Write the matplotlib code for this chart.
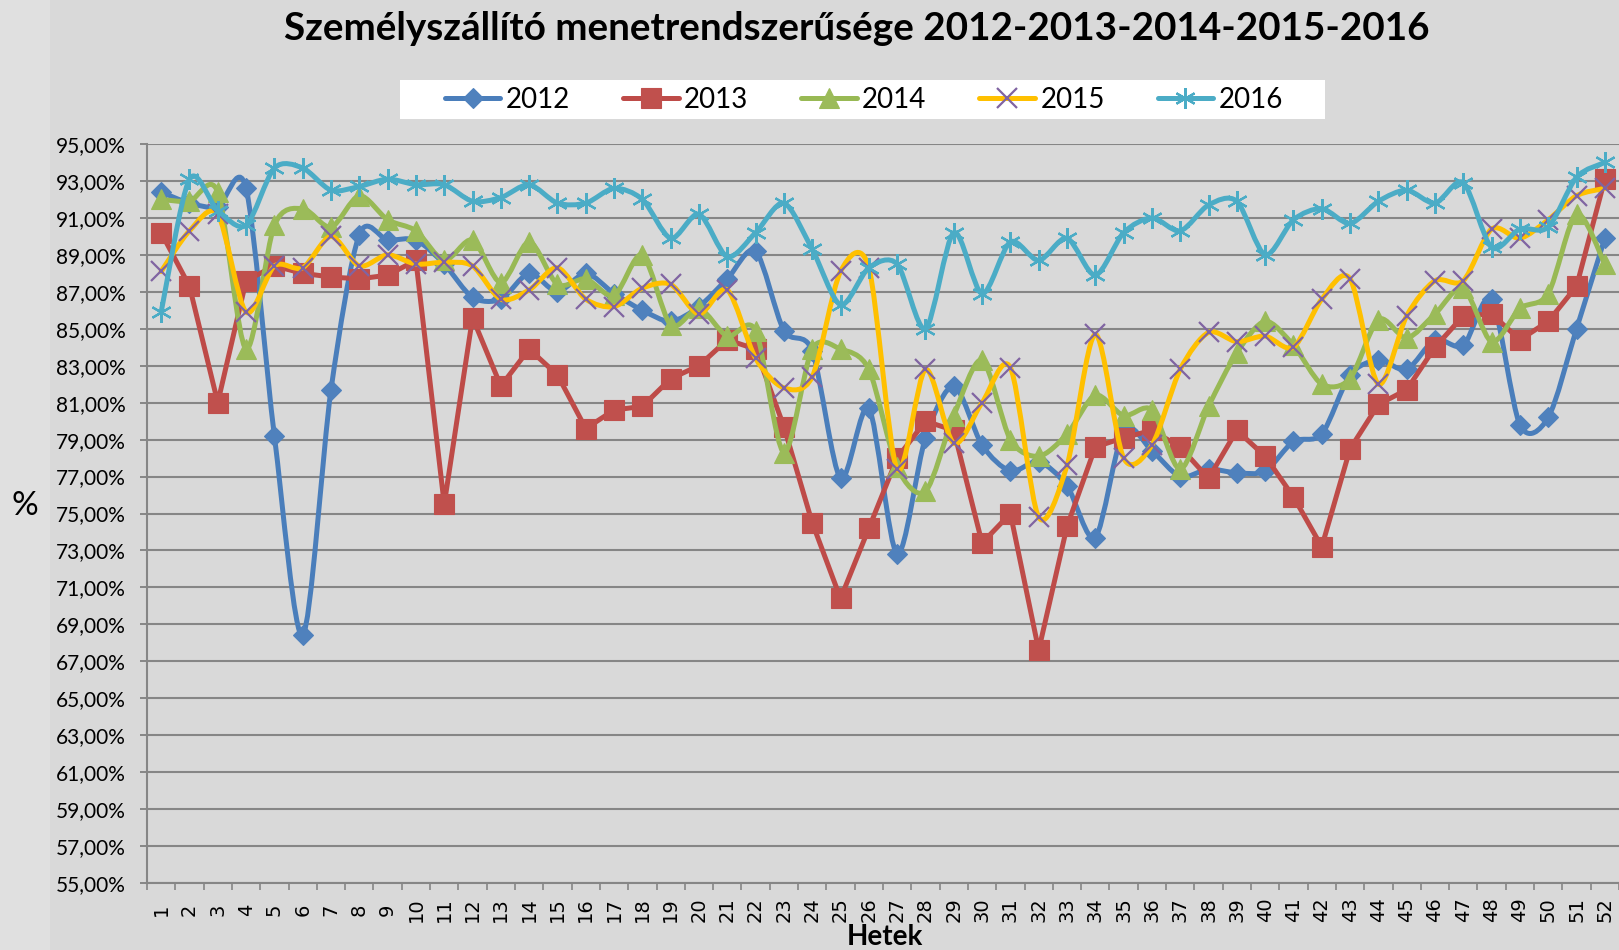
import matplotlib

matplotlib.use("Agg")
import matplotlib.pyplot as plt
import numpy as np
from matplotlib.lines import Line2D
from matplotlib.patches import PathPatch, Rectangle
from matplotlib.path import Path


WEEKS = list(range(1, 53))

Y2012 = [92.4, 91.8, 91.6, 92.6, 79.2, 68.4, 81.7, 90.1, 89.8, 89.8,
         88.5, 86.7, 86.6, 88.0, 87.0, 88.0, 86.9, 86.0, 85.4, 86.2,
         87.7, 89.2, 84.9, 83.8, 76.9, 80.7, 72.8, 79.1, 81.9, 78.7,
         77.3, 77.8, 76.5, 73.7, 79.5, 78.4, 77.0, 77.4, 77.2, 77.3,
         78.9, 79.3, 82.5, 83.3, 82.8, 84.4, 84.1, 86.6, 79.8, 80.2,
         85.0, 89.9]
Y2013 = [90.2, 87.3, 81.0, 87.6, 88.4, 88.0, 87.8, 87.7, 87.9, 88.7,
         75.5, 85.6, 81.9, 83.9, 82.5, 79.6, 80.6, 80.8, 82.3, 83.0,
         84.4, 83.9, 79.7, 74.5, 70.4, 74.2, 78.0, 80.0, 79.5, 73.4,
         75.0, 67.6, 74.3, 78.6, 79.1, 79.5, 78.6, 76.9, 79.5, 78.1,
         75.9, 73.2, 78.5, 80.9, 81.7, 84.0, 85.7, 85.8, 84.4, 85.4,
         87.3, 93.1]
Y2014 = [92.0, 91.9, 92.4, 83.9, 90.6, 91.5, 90.5, 92.2, 90.9, 90.3,
         88.7, 89.8, 87.5, 89.7, 87.4, 87.7, 86.8, 89.0, 85.2, 86.1,
         84.6, 84.9, 78.3, 83.9, 83.9, 82.8, 77.5, 76.2, 80.3, 83.3,
         79.0, 78.1, 79.3, 81.4, 80.3, 80.6, 77.4, 80.8, 83.7, 85.4,
         84.1, 82.0, 82.3, 85.5, 84.5, 85.8, 87.2, 84.3, 86.1, 86.9,
         91.2, 88.5]
Y2015 = [88.1, 90.3, 91.2, 85.9, 88.4, 88.3, 90.0, 88.4, 89.0, 88.5,
         88.6, 88.4, 86.6, 87.1, 88.3, 86.6, 86.2, 87.2, 87.4, 85.8,
         87.1, 83.4, 81.8, 82.4, 88.1, 88.3, 77.4, 82.8, 78.8, 81.0,
         82.9, 74.8, 77.6, 84.7, 78.0, 78.7, 82.8, 84.8, 84.3, 84.6,
         84.0, 86.6, 87.7, 82.0, 85.7, 87.6, 87.6, 90.4, 89.9, 90.9,
         92.2, 92.6]
Y2016 = [85.9, 93.1, 91.4, 90.6, 93.7, 93.7, 92.5, 92.7, 93.1, 92.8,
         92.8, 91.9, 92.1, 92.8, 91.8, 91.8, 92.6, 92.0, 89.9, 91.2,
         88.9, 90.2, 91.8, 89.3, 86.3, 88.3, 88.5, 85.0, 90.2, 86.9,
         89.7, 88.7, 89.9, 87.9, 90.2, 91.0, 90.3, 91.7, 91.9, 89.0,
         90.9, 91.5, 90.7, 91.9, 92.5, 91.8, 92.9, 89.4, 90.4, 90.5,
         93.2, 94.0]

SERIES_NAMES = ["2012", "2013", "2014", "2015", "2016"]
SERIES_VALUES = [Y2012, Y2013, Y2014, Y2015, Y2016]

Y_TICKS = np.arange(55, 96, 2)

TITLE = "Személyszállító menetrendszerűsége 2012-2013-2014-2015-2016"

# stílus: (vonal szín, marker, marker szín, marker méret, simított?)
STYLES = [
    ("#4A7EBB", "D", "#4F81BD", 10.5, True),
    ("#BE4B48", "s", "#C0504D", 14, False),
    ("#98B954", "^", "#9BBB59", 14, True),
    ("#FFC000", "x", "#8064A2", 14, True),
    ("#4BACC6", (6, 2, 0), "#4BACC6", 15, True),
]

BG = "#D9D9D9"
GRID = "#868686"
FIG_W, FIG_H = 1619, 950
SMOOTH_K = 1 / 7


def bezier_path(x, y, smooth):
    pts = np.column_stack([x, y]).astype(float)
    if not smooth:
        return Path(pts)
    ext = np.vstack([pts[0], pts, pts[-1]])
    verts = [pts[0]]
    codes = [Path.MOVETO]
    for i in range(len(pts) - 1):
        p0, p1, p2, p3 = ext[i], ext[i + 1], ext[i + 2], ext[i + 3]
        verts += [p1 + (p2 - p0) * SMOOTH_K, p2 - (p3 - p1) * SMOOTH_K, p2]
        codes += [Path.CURVE4] * 3
    return Path(verts, codes)


def main() -> None:
    plt.rcParams["font.family"] = ["Lato", "DejaVu Sans"]

    fig = plt.figure(figsize=(FIG_W / 100, FIG_H / 100), dpi=100, facecolor=BG)

    # világosabb sáv a bal szélen
    fig.patches.append(Rectangle((0, 0), 50 / FIG_W, 1, transform=fig.transFigure,
                                 facecolor="#E0E0E0", edgecolor="none", zorder=0))

    ax = fig.add_axes([147 / FIG_W, 67 / FIG_H, 1472 / FIG_W, 739 / FIG_H])
    ax.set_facecolor(BG)

    handles = []
    for i, (name, values) in enumerate(zip(SERIES_NAMES, SERIES_VALUES)):
        line_color, marker, marker_color, msize, smooth = STYLES[i]
        patch = PathPatch(bezier_path(WEEKS, values, smooth), facecolor="none",
                          edgecolor=line_color, lw=3.6, capstyle="round",
                          joinstyle="round", zorder=3 + i * 0.1)
        ax.add_patch(patch)
        mew = 1.6 if marker in ("x", (6, 2, 0)) else 0.8
        ax.plot(WEEKS, values, linestyle="none", marker=marker, markersize=msize,
                markerfacecolor=marker_color, markeredgecolor=marker_color,
                markeredgewidth=mew, zorder=3.05 + i * 0.1)
        handles.append(Line2D([0], [0], color=line_color, lw=3.6,
                              solid_capstyle="round", marker=marker,
                              markersize=msize, markerfacecolor=marker_color,
                              markeredgecolor=marker_color, markeredgewidth=mew,
                              label=name))

    ax.set_xlim(0.5, 52.5)
    ax.set_ylim(55, 95)

    ax.set_yticks(Y_TICKS)
    ax.set_yticklabels([f"{v:.2f}".replace(".", ",") + "%" for v in Y_TICKS])
    ax.tick_params(axis="y", length=5, width=1.4, color=GRID, pad=10, labelsize=15)
    ax.yaxis.grid(True, color=GRID, lw=1.5, zorder=1)
    ax.set_axisbelow(True)

    ax.set_xticks(WEEKS)
    ax.set_xticklabels([str(w) for w in WEEKS], rotation=90, va="center",
                       family="DejaVu Sans", fontsize=14)
    ax.set_xticks(np.arange(0.5, 53, 1), minor=True)
    ax.tick_params(axis="x", which="major", length=0, pad=19)
    ax.tick_params(axis="x", which="minor", length=5, width=1.2, color=GRID)

    for side in ("top", "right"):
        ax.spines[side].set_visible(False)
    for side in ("left", "bottom"):
        ax.spines[side].set_color(GRID)
        ax.spines[side].set_linewidth(1.5)

    fig.text(857 / FIG_W, 1 - 28 / FIG_H, TITLE, ha="center", va="center",
             fontsize=27.8, fontweight="bold")
    fig.text(25 / FIG_W, 1 - 506 / FIG_H, "%", ha="center", va="center", fontsize=24)
    fig.text(885 / FIG_W, 1 - 937 / FIG_H, "Hetek", ha="center", va="center",
             fontsize=20, fontweight="bold")

    # jelmagyarázat fehér háttérrel
    fig.patches.append(Rectangle((400 / FIG_W, 1 - 119 / FIG_H), 925 / FIG_W, 39 / FIG_H,
                                 transform=fig.transFigure, facecolor="white",
                                 edgecolor="none", zorder=1))
    leg = fig.legend(handles=handles, loc="center", ncol=5, frameon=False,
                     bbox_to_anchor=(864 / FIG_W, 1 - 99.5 / FIG_H),
                     bbox_transform=fig.transFigure, fontsize=20, numpoints=1,
                     handlelength=2.0, handletextpad=0.2, columnspacing=1.9)
    leg.set_zorder(5)

    fig.savefig("out.png", dpi=100, facecolor=BG)
    plt.close(fig)


if __name__ == "__main__":
    main()
